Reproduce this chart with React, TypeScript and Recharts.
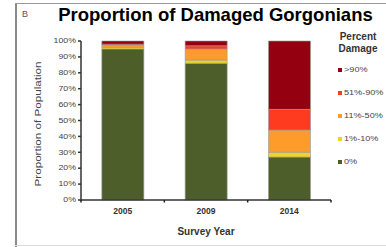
import React from 'react';
import { BarChart, Bar, XAxis, YAxis, Legend } from 'recharts';

const years = ['2005', '2009', '2014'];
const pct0 = [95, 86, 27];
const pct1to10 = [1, 2, 3];
const pct11to50 = [1.5, 7, 14];
const pct51to90 = [0.5, 2, 13];
const pctOver90 = [2, 3, 43];
const yTicks = [0, 10, 20, 30, 40, 50, 60, 70, 80, 90, 100];

const seriesKeys = ['s0', 's1', 's2', 's3', 's4'];
const seriesNames = ['0%', '1%-10%', '11%-50%', '51%-90%', '>90%'];
const seriesColors = ['#4E5E2B', '#F2D320', '#FE9B2A', '#FF3B1F', '#94000F'];
const seriesValues = [pct0, pct1to10, pct11to50, pct51to90, pctOver90];

const data = years.map((year, i) => {
  const row: Record<string, any> = { year };
  seriesKeys.forEach((k, s) => {
    row[k] = seriesValues[s][i];
  });
  return row;
});

const FONT = '"Liberation Sans", Arial, sans-serif';
const X_TICK_MARGIN = 7.5;

const YTick = (props: any) => {
  const { x, y, payload } = props;
  return (
    <g transform={`translate(${x},${y})`}>
      <text
        x={0}
        y={0}
        dy="0.35em"
        textAnchor="end"
        fontSize={6.5}
        fill="#444"
        fontFamily={FONT}
        transform="scale(1.35,1)"
      >
        {payload.value}%
      </text>
    </g>
  );
};

const XTick = (props: any) => {
  const { x, y, payload, index, visibleTicksCount, width } = props;
  let half = payload && typeof payload.offset === 'number' ? payload.offset : 0;
  if (!half && width && visibleTicksCount) half = width / visibleTicksCount / 2;
  const axisY = y - X_TICK_MARGIN;
  const isLast = index === visibleTicksCount - 1;
  return (
    <g>
      <line x1={x - half} x2={x - half} y1={axisY} y2={axisY + 2.5} stroke="#222" strokeWidth={1.5} />
      {isLast && (
        <line x1={x + half} x2={x + half} y1={axisY} y2={axisY + 2.5} stroke="#222" strokeWidth={1.5} />
      )}
      <text
        x={x}
        y={y}
        dy="0.71em"
        textAnchor="middle"
        fontSize={8.5}
        fontWeight="bold"
        fill="#333"
        fontFamily={FONT}
      >
        {payload.value}
      </text>
    </g>
  );
};

const YLabel = (props: any) => {
  const { viewBox } = props;
  const cx = viewBox.x + 41.3;
  const cy = viewBox.y + viewBox.height / 2 + 3.5;
  return (
    <text
      x={cx}
      y={cy}
      textAnchor="middle"
      fontSize={8.5}
      fill="#444"
      fontFamily={FONT}
      textLength={125}
      lengthAdjust="spacingAndGlyphs"
      transform={`rotate(-90, ${cx}, ${cy})`}
    >
      Proportion of Population
    </text>
  );
};

const XLabel = (props: any) => {
  const { viewBox } = props;
  const cx = viewBox.x + viewBox.width / 2;
  return (
    <text
      x={cx}
      y={235.3}
      textAnchor="middle"
      fontSize={10}
      fontWeight="bold"
      fill="#333"
      fontFamily={FONT}
    >
      Survey Year
    </text>
  );
};

const renderLegend = (props: any) => {
  const items = [...(props.payload || [])].reverse();
  return (
    <div style={{ position: 'relative', width: 56, height: 140, fontFamily: FONT }}>
      <div
        style={{
          position: 'absolute',
          left: 0,
          top: 0,
          width: 56,
          textAlign: 'center',
          fontWeight: 'bold',
          fontSize: 10,
          lineHeight: '12px',
          color: '#333',
        }}
      >
        Percent
        <br />
        Damage
      </div>
      {items.map((it: any, i: number) => (
        <div
          key={i}
          style={{
            position: 'absolute',
            left: 8,
            top: 34 + i * 23,
            height: 10,
            display: 'flex',
            alignItems: 'center',
            fontSize: 7,
            lineHeight: '10px',
            color: '#444',
            whiteSpace: 'nowrap',
          }}
        >
          <span style={{ display: 'inline-block', width: 4, height: 4, background: it.color, marginRight: 1.5 }} />
          <span style={{ display: 'inline-block', transform: 'scaleX(1.3)', transformOrigin: 'left center' }}>{it.value}</span>
        </div>
      ))}
    </div>
  );
};

export default function App() {
  return (
    <div style={{ position: 'absolute', left: 0, top: 0, width: 386, height: 247, background: '#fff', fontFamily: FONT }}>
      <div style={{ position: 'absolute', left: 15, top: 3, width: 2, height: 244, background: '#8a8a8a' }} />
      <div style={{ position: 'absolute', left: 15, top: 3, width: 371, height: 1, background: '#9a9a9a' }} />
      <div style={{ position: 'absolute', left: 15, top: 245, width: 371, height: 1, background: '#dcdcdc' }} />
      <div
        style={{
          position: 'absolute',
          left: 22,
          top: 10,
          fontSize: 9,
          lineHeight: '9px',
          color: '#555',
        }}
      >
        B
      </div>
      <div
        style={{
          position: 'absolute',
          left: 0,
          top: 5.75,
          width: 431,
          textAlign: 'center',
          fontSize: 18.5,
          lineHeight: '18.5px',
          fontWeight: 'bold',
          color: '#000',
          whiteSpace: 'nowrap',
        }}
      >
        Proportion of Damaged Gorgonians
      </div>
      <div style={{ position: 'absolute', left: 0, top: 0 }}>
        <BarChart
          width={386}
          height={247}
          data={data}
          margin={{ top: 41, right: 55, bottom: 17, left: 0 }}
          barCategoryGap="25%"
        >
          <XAxis
            dataKey="year"
            height={30}
            tickLine={false}
            tickSize={0}
            tickMargin={X_TICK_MARGIN}
            axisLine={{ stroke: '#333', strokeWidth: 1.5 }}
            tick={<XTick />}
            interval={0}
            label={<XLabel />}
          />
          <YAxis
            width={81}
            domain={[0, 100]}
            ticks={yTicks}
            tickSize={3}
            tickMargin={2}
            interval={0}
            axisLine={{ stroke: '#333', strokeWidth: 1.5 }}
            tickLine={{ stroke: '#333', strokeWidth: 1.5 }}
            tick={<YTick />}
            label={<YLabel />}
          />
          <Legend
            layout="vertical"
            align="center"
            verticalAlign="middle"
            wrapperStyle={{ left: 330, top: 31, width: 56 }}
            content={renderLegend}
          />
          {seriesKeys.map((k, s) => (
            <Bar
              key={k}
              dataKey={k}
              name={seriesNames[s]}
              stackId="a"
              fill={seriesColors[s]}
              stroke="#9a9a9a"
              strokeWidth={0.6}
              isAnimationActive={false}
            />
          ))}
        </BarChart>
      </div>
    </div>
  );
}
